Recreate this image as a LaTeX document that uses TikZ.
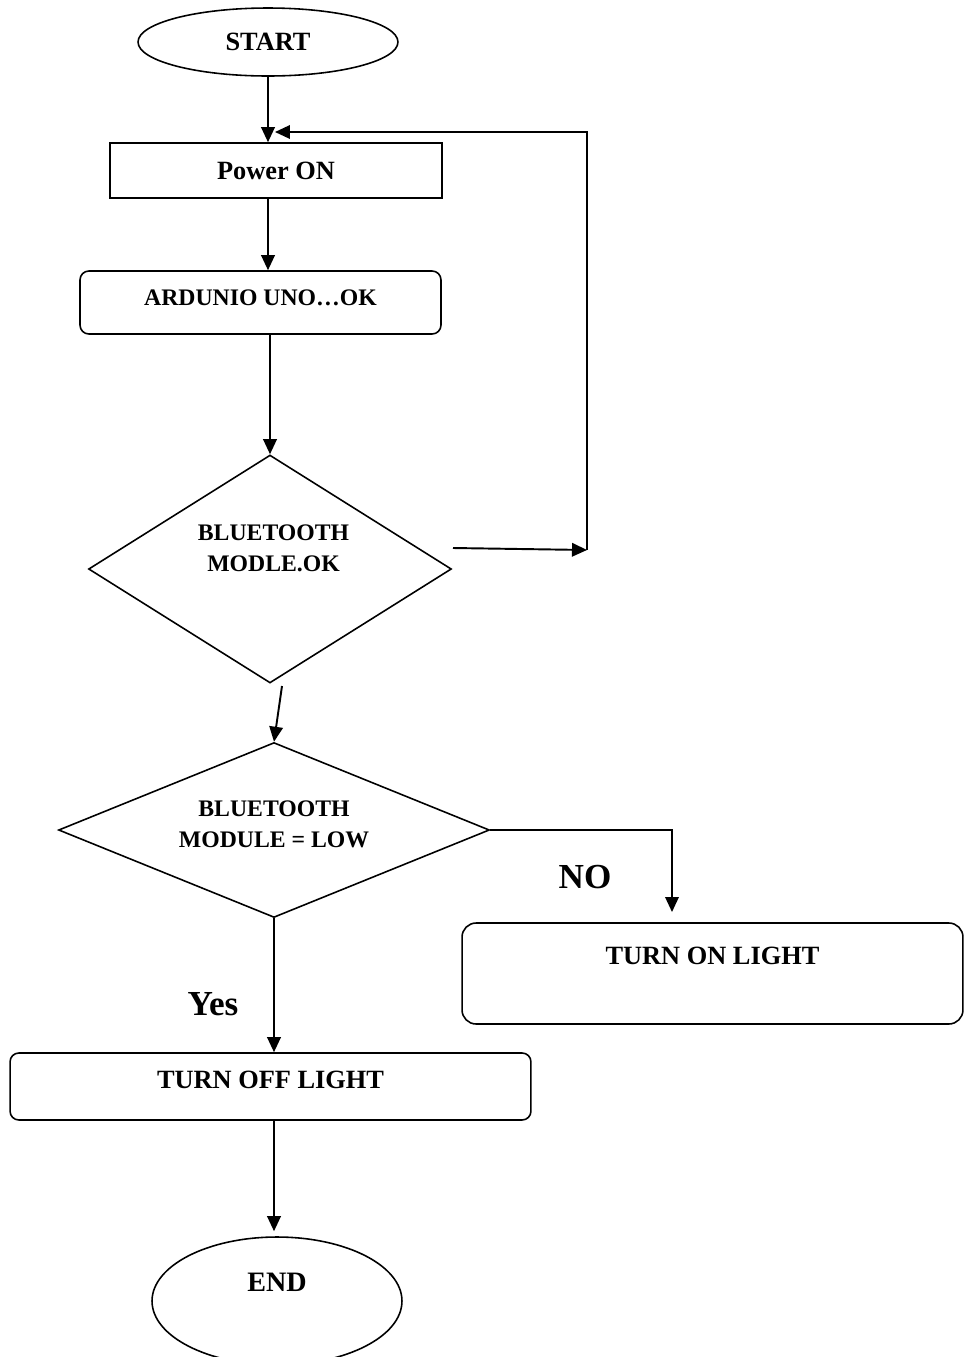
\documentclass[tikz,border=0pt]{standalone}
\usepackage{fontspec}
\setmainfont{Liberation Serif}
\usetikzlibrary{arrows.meta,positioning,shapes.geometric,calc}

\begin{document}
\begin{tikzpicture}[
  x=0.02cm, y=-0.02cm,
  font=\bfseries\fontsize{15}{18}\selectfont,
  term/.style={draw, ellipse, line width=0.9pt, inner sep=0pt},
  box/.style={draw, line width=0.9pt, inner sep=0pt},
  rbox/.style={box, rounded corners=5pt},
  decision/.style={draw, diamond, line width=0.9pt, inner sep=0pt},
  small/.style={font=\bfseries\fontsize{13.5}{17.5}\selectfont, align=center},
  big/.style={font=\bfseries\fontsize{20}{24}\selectfont},
  >={Triangle[length=0.3cm,width=0.27cm]},
  flow/.style={->, line width=1.1pt}]
  \useasboundingbox (0,0) rectangle (970,1357);
  % boxes
  \node[term, minimum width=5.2cm, minimum height=1.36cm] (start) at (268,42) {START};
  \node[box, minimum width=6.64cm, minimum height=1.1cm] (power) at (276,170.5) {Power ON};
  \node[rbox, minimum width=7.22cm, minimum height=1.26cm,
    label={[small, yshift=0.09cm]center:ARDUNIO UNO…OK}] (ardu) at (260.5,302.5) {};
  \node[decision, minimum width=7.26cm, minimum height=4.56cm,
    label={[small, yshift=0.42cm, xshift=0.07cm]center:BLUETOOTH\\MODLE.OK}] (btok) at (270,569) {};
  \node[decision, minimum width=8.62cm, minimum height=3.5cm,
    label={[small, yshift=0.12cm]center:BLUETOOTH\\MODULE = LOW}] (btlow) at (274,830) {};
  \node[rbox, rounded corners=8pt, minimum width=10.02cm, minimum height=2.02cm,
    label={[yshift=0.35cm]center:TURN ON LIGHT}] (lighton) at (712.5,973.5) {};
  \node[rbox, minimum width=10.42cm, minimum height=1.34cm,
    label={[yshift=0.13cm]center:TURN OFF LIGHT}] (lightoff) at (270.5,1086.5) {};
  \node[term, minimum width=5.0cm, minimum height=2.56cm,
    label={[font=\bfseries\fontsize{16}{19}\selectfont, yshift=0.38cm]center:END}] (stop) at (277,1301) {};
  % branch labels
  \node[big] (no) at (585,877) {NO};
  \node[big] (yes) at (213,1004) {Yes};
  % loose ends
  \coordinate (okout) at (453,548);
  \coordinate (loopin) at (587,550);
  \coordinate (looptop) at (587,132);
  \coordinate (powin) at (275,132);
  \coordinate (okdown) at (282,686);
  \coordinate (onin) at (672,912);
  % connectors
  \draw[flow] (start.south) -- (start.south |- power.north);
  \draw[flow] (power.south -| start.south) -- (ardu.north -| start.south);
  \draw[flow] (ardu.south -| btok.north) -- (btok.north);
  \draw[flow] (okout) -- (loopin);
  \draw[flow] (loopin) -- (looptop) -- (powin);
  \draw[flow] (okdown) -- (btlow.north);
  \draw[flow] (btlow.east) -| (onin);
  \draw[flow] (btlow.south) -- (lightoff.north -| btlow.south);
  \draw[flow, shorten >=0.1cm] (lightoff.south -| btlow.south) -- (stop.north -| btlow.south);
\end{tikzpicture}
\end{document}
